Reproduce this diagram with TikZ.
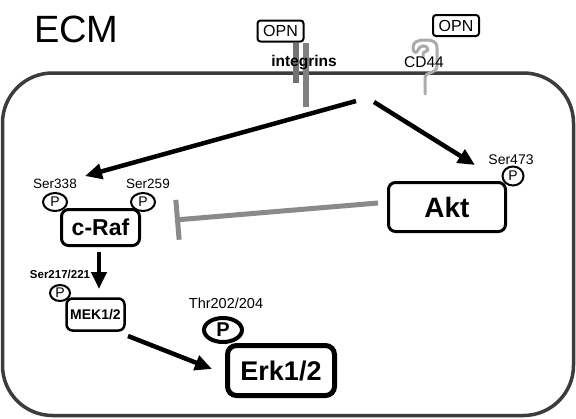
\documentclass[tikz,border=0pt]{standalone}
\usepackage{fontspec}
\setmainfont{Liberation Sans}
\usetikzlibrary{arrows.meta,shapes.geometric}
\begin{document}
\begin{tikzpicture}[x=1pt,y=-1pt,
  protbox/.style={draw=black,rounded corners=7pt,fill=white,inner sep=0pt,line width=3pt,font=\bfseries},
  opnbox/.style={draw=black,rounded corners=3pt,fill=white,inner sep=0pt,line width=2pt,minimum width=46pt,minimum height=21pt,font=\fontsize{16}{16}\selectfont},
  pcirc/.style={draw=black,fill=white,ellipse,inner sep=0pt,line width=2pt,font=\fontsize{14}{14}\selectfont},
  site/.style={inner sep=0pt,anchor=base,font=\fontsize{13.5}{13.5}\selectfont},
  act/.style={line width=4.5pt,-{Triangle[length=17pt,width=15pt]}},
  inh/.style={line width=5pt,draw=inhgray,-{Bar[width=40pt,line width=5pt]}}
]
\definecolor{cellgray}{HTML}{3C3C3C}
\definecolor{inhgray}{HTML}{8A8A8A}
\definecolor{intgray}{HTML}{808080}
\definecolor{cdgray}{HTML}{ABABAB}
\useasboundingbox (0,0) rectangle (576,418);
\fill[white] (0,0) rectangle (576,418);

% cell
\draw[cellgray,line width=3.5pt,rounded corners=50pt] (2.5,73) rectangle (573.5,415.5);
\node[anchor=base west,inner sep=0pt,font=\fontsize{38}{38}\selectfont] (ecm) at (34,42) {ECM};

% integrins
\fill[intgray!90!black] (293,43) rectangle (299,83);
\fill[intgray] (303,43) rectangle (309,107);
\node[opnbox] (opn1) at (280.5,31) {OPN};
\node[anchor=base,inner sep=0pt,font=\bfseries\fontsize{15.5}{15.5}\selectfont] (intg) at (304,66) {integrins};

% CD44
\draw[cdgray,line width=3pt,line cap=round,line join=round]
  (425,94) -- (425,77) .. controls (425,72) and (437,74) .. (437,66) -- (437,48)
  .. controls (437,41) and (432,40) .. (425,40) .. controls (417,40) and (413,42) .. (413,48)
  .. controls (413,53) and (417,54) .. (418,50) .. controls (419,45) and (428,44) .. (428,50)
  -- (423,53) -- (423,57);
\node[anchor=base west,inner sep=0pt,font=\fontsize{15.5}{15.5}\selectfont] (cd44) at (404,67) {CD44};
\node[opnbox] (opn2) at (456,25.5) {OPN};

% proteins
\node[protbox,minimum width=78pt,minimum height=36pt,font=\bfseries\fontsize{23}{23}\selectfont] (craf) at (100.5,227.5) {c-Raf};
\node[pcirc,minimum width=24pt,minimum height=18pt] (p338) at (55,202) {P};
\node[pcirc,minimum width=24pt,minimum height=18pt] (p259) at (143,202) {P};
\node[site] (s338) at (55,188) {Ser338};
\node[site] (s259) at (148,188) {Ser259};

\node[protbox,minimum width=117pt,minimum height=49pt,font=\bfseries\fontsize{28}{28}\selectfont] (akt) at (447,207) {Akt};
\node[pcirc,minimum width=21pt,minimum height=19pt] (p473) at (513,176) {P};
\node[site,font=\fontsize{14}{14}\selectfont] (s473) at (511,164) {Ser473};

\node[protbox,line width=2.5pt,rounded corners=6pt,minimum width=58pt,minimum height=32pt,font=\bfseries\fontsize{14}{14}\selectfont] (mek) at (95.5,314.5) {MEK1/2};
\node[pcirc,minimum width=20pt,minimum height=16pt] (pmek) at (60,293) {P};
\node[site,font=\bfseries\fontsize{11.5}{11.5}\selectfont] (s217) at (60,278) {Ser217/221};

\node[protbox,line width=5pt,rounded corners=9pt,minimum width=107pt,minimum height=50pt,font=\bfseries\fontsize{27}{27}\selectfont] (erk) at (281,370.5) {Erk1/2};
\node[pcirc,line width=4pt,minimum width=38pt,minimum height=24pt,font=\bfseries\fontsize{20}{20}\selectfont] (perk) at (223,330) {P};
\node[site,font=\fontsize{14.5}{14.5}\selectfont] (t202) at (226,308) {Thr202/204};

% connectors
\coordinate (src1) at (356,101);
\coordinate (src2) at (374,102);
\coordinate (tgt1) at (85,176);
\coordinate (tgt2) at (475,165);
\draw[act] (src1) -- (tgt1);
\draw[act] (src2) -- (tgt2);
\coordinate (rafout) at (99,252);
\coordinate (mekin) at (99,289);
\draw[act] (rafout) -- (mekin);
\coordinate (mekout) at (128,336);
\coordinate (erkin) at (212,369);
\draw[act] (mekout) -- (erkin);
\coordinate (aktout) at (378,203);
\coordinate (rafin) at (175,220);
\draw[inh] (aktout) -- (rafin);
\end{tikzpicture}
\end{document}
